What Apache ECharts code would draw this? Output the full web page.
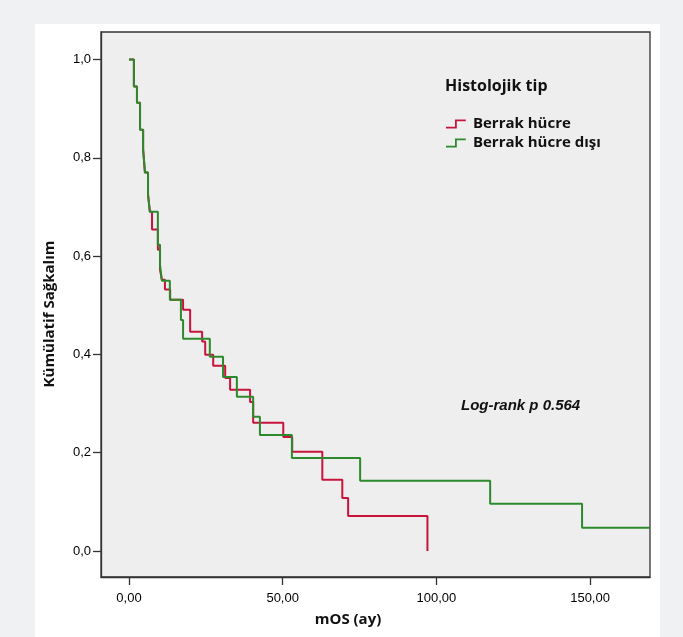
<!DOCTYPE html>
<html>
<head>
<meta charset="utf-8">
<script src="https://cdn.jsdelivr.net/npm/echarts@6/dist/echarts.min.js"></script>
<style>
  html, body { margin: 0; padding: 0; background: #f0f1f3; }
  #panel { position: absolute; left: 35px; top: 24px; width: 625px; height: 613px; background: #ffffff; }
  #chart { position: absolute; left: 0; top: 0; width: 683px; height: 637px; }
</style>
</head>
<body>
<div id="panel"></div>
<div id="chart"></div>
<script>
// Kaplan-Meier egrileri (ay, kumulatif sagkalim)
const redName = 'Berrak hücre';
const redTime = [0, 1.6, 2.6, 3.6, 4.6, 5.2, 6.2, 6.8, 7.5, 9.4, 10.1, 10.7, 11.7, 13.4, 17.6, 19.9, 23.8, 24.8, 27.4, 31.3, 32.9, 39.4, 40.4, 50.2, 53.1, 62.9, 69.4, 71.3, 97.1];
const redSurv = [1.0, 0.945, 0.912, 0.857, 0.817, 0.770, 0.725, 0.690, 0.654, 0.613, 0.572, 0.552, 0.532, 0.511, 0.491, 0.446, 0.426, 0.399, 0.377, 0.352, 0.328, 0.303, 0.261, 0.232, 0.202, 0.145, 0.108, 0.071, 0.0];

const greenName = 'Berrak hücre dışı';
const greenTime = [0, 1.6, 2.6, 3.6, 4.6, 5.2, 6.2, 6.8, 9.4, 10.1, 10.7, 13.3, 16.9, 17.6, 26.3, 30.6, 35.1, 40.4, 42.6, 53.0, 75.2, 117.5, 147.4, 169.5];
const greenSurv = [1.0, 0.945, 0.912, 0.857, 0.817, 0.770, 0.725, 0.690, 0.623, 0.582, 0.550, 0.511, 0.470, 0.432, 0.395, 0.354, 0.314, 0.273, 0.236, 0.189, 0.143, 0.096, 0.047, 0.047];

const xTicks = [0, 50, 100, 150];
const yTicks = [0, 0.2, 0.4, 0.6, 0.8, 1.0];

function pairs(t, s) {
  let out = [];
  for (let i = 0; i < t.length; i++) {
    out.push([t[i], s[i]]);
  }
  return out;
}

const chart = echarts.init(document.getElementById('chart'), null, { renderer: 'canvas' });

const titleFont = '"Open Sans", "Liberation Sans", sans-serif';
const tickFont = '"Liberation Sans Narrow", "Liberation Sans", sans-serif';

chart.setOption({
  animation: false,
  backgroundColor: 'transparent',
  grid: {
    left: 101, top: 32, right: 33, bottom: 60,
    show: true,
    backgroundColor: '#eeeeee',
    borderColor: '#333333',
    borderWidth: 1.3
  },
  legend: {
    orient: 'vertical',
    left: 441,
    top: 111,
    itemWidth: 24,
    itemHeight: 9,
    itemGap: 3,
    icon: 'path://M0,8 L10,8 L10,0 L22,0 L22,2 L12,2 L12,10 L0,10 Z',
    textStyle: { fontFamily: titleFont, fontWeight: 'bold', fontSize: 15, color: '#111', lineHeight: 16 },
    data: [redName, greenName]
  },
  xAxis: {
    type: 'value',
    min: -9.1,
    max: 169.5,
    axisLine: { onZero: false, lineStyle: { color: '#333', width: 1.3 } },
    axisTick: { show: true, inside: false, length: 8, customValues: xTicks, lineStyle: { color: '#333', width: 1.3 } },
    axisLabel: {
      customValues: xTicks,
      margin: 15,
      fontFamily: tickFont,
      fontSize: 13,
      color: '#000',
      formatter: v => v.toFixed(2).replace('.', ',')
    },
    splitLine: { show: false }
  },
  yAxis: {
    type: 'value',
    min: -0.053,
    max: 1.056,
    axisLine: { onZero: false, lineStyle: { color: '#333', width: 1.3 } },
    axisTick: { show: true, inside: false, length: 8, customValues: yTicks, lineStyle: { color: '#333', width: 1.3 } },
    axisLabel: {
      customValues: yTicks,
      margin: 10,
      fontFamily: tickFont,
      fontSize: 13,
      color: '#000',
      formatter: v => v.toFixed(1).replace('.', ',')
    },
    splitLine: { show: false }
  },
  graphic: [
    {
      type: 'text', left: 445, top: 78,
      style: { text: 'Histolojik tip', font: 'bold 16px ' + titleFont, fill: '#111' }
    },
    {
      type: 'text', x: 348, y: 620,
      style: { text: 'mOS (ay)', font: 'bold 15px ' + titleFont, fill: '#111', align: 'center', verticalAlign: 'middle' }
    },
    {
      type: 'text', x: 50, y: 314, rotation: Math.PI / 2,
      style: { text: 'Kümülatif Sağkalım', font: 'bold 15px ' + titleFont, fill: '#111', align: 'center', verticalAlign: 'middle' }
    },
    {
      type: 'text', x: 461, y: 406,
      style: { text: 'Log-rank p 0.564', font: 'italic bold 15px "Liberation Sans", Arial, sans-serif', fill: '#111', verticalAlign: 'middle' }
    }
  ],
  series: [
    {
      name: redName,
      type: 'line',
      step: 'end',
      showSymbol: false,
      color: '#c8143c',
      lineStyle: { width: 2 },
      data: pairs(redTime, redSurv)
    },
    {
      name: greenName,
      type: 'line',
      step: 'end',
      showSymbol: false,
      color: '#2c8a2c',
      lineStyle: { width: 2 },
      data: pairs(greenTime, greenSurv)
    }
  ]
});
</script>
</body>
</html>
